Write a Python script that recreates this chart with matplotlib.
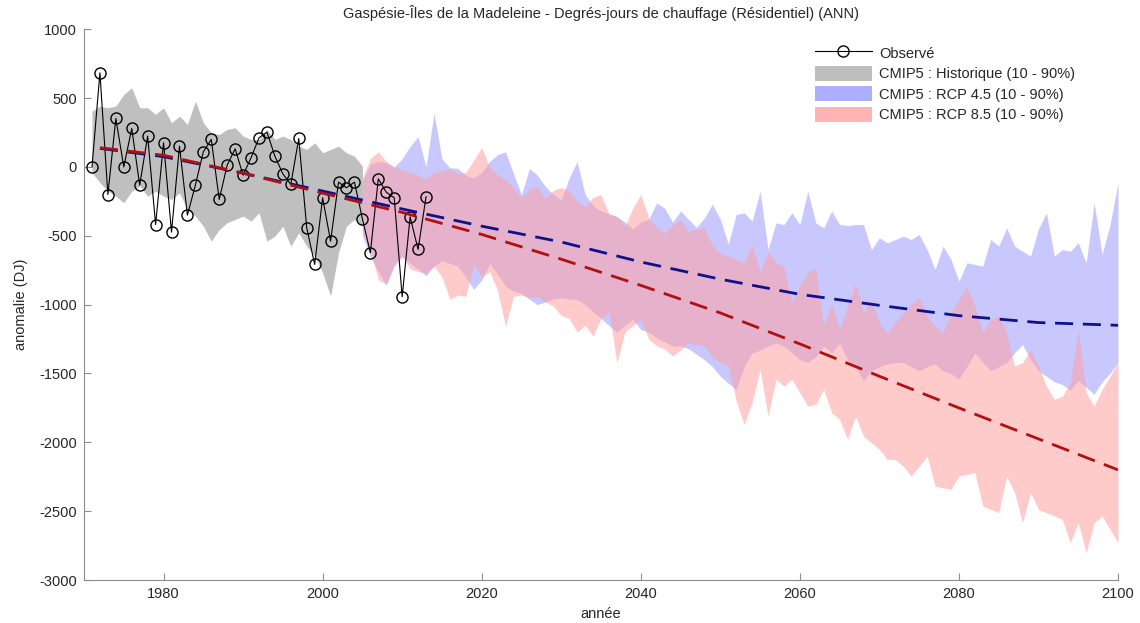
import numpy as np
import matplotlib
matplotlib.use("Agg")
import matplotlib.pyplot as plt
from matplotlib.lines import Line2D
from matplotlib.patches import Patch

plt.rcParams['font.family'] = ['Liberation Sans', 'DejaVu Sans']
plt.rcParams['axes.unicode_minus'] = False

# Observed anomalies (DJ), 1971-2013
obs_years = list(range(1971, 2014))
obs_vals = [-1, 684, -200, 352, 0, 280, -132, 224, -418, 176,
            -473, 151, -350, -132, 110, 200, -236, 13, 132, -60,
            67, 212, 253, 78, -50, -127, 207, -442, -708, -224,
            -539, -110, -151, -110, -376, -623, -86, -183, -224, -943,
            -362, -599, -216]

# CMIP5 historical 10-90% envelope, 1971-2005
hist_years = list(range(1971, 2006))
hist_hi = [405, 442, 430, 442, 527, 575, 430, 430, 381, 430,
           321, 369, 309, 478, 321, 248, 236, 272, 285, 224,
           200, 200, 272, 200, 224, 200, 151, 127, 176, 103,
           127, 151, 103, 78, 6]
hist_lo = [-42, -113, -176, -212, -260, -176, -139, -212, -176, -212,
           -236, -188, -309, -357, -430, -539, -454, -405, -381, -357,
           -393, -333, -539, -502, -430, -575, -478, -575, -648, -769,
           -938, -623, -430, -381, -430]

# CMIP5 scenario envelopes, 2005-2100
rcp_years = list(range(2005, 2101))
rcp45_hi = [-100, 20, 40, 30, 0, 60, 150, 220, 0, 390,
            60, -6, -10, -60, -80, -40, 40, 90, 110, -50,
            -200, -10, -60, -140, -200, -240, -80, 40, -200, -280,
            -320, -340, -360, -400, -450, -400, -380, -260, -300, -400,
            -320, -380, -440, -370, -270, -380, -560, -345, -333, -394,
            -176, -600, -406, -418, -333, -418, -176, -406, -442, -321,
            -418, -425, -418, -418, -600, -514, -551, -527, -502, -527,
            -490, -600, -745, -575, -672, -829, -696, -708, -720, -527,
            -575, -442, -575, -612, -648, -450, -333, -648, -600, -612,
            -551, -696, -260, -636, -418, -115]
rcp45_lo = [-500, -650, -760, -860, -720, -650, -700, -740, -790, -720,
            -680, -700, -720, -800, -890, -820, -700, -780, -865, -900,
            -920, -960, -1000, -980, -960, -950, -960, -962, -1000, -1050,
            -1100, -1150, -1200, -1150, -1107, -1180, -1200, -1240, -1270, -1301,
            -1300, -1320, -1360, -1400, -1450, -1520, -1570, -1616, -1450, -1350,
            -1330, -1300, -1280, -1300, -1350, -1400, -1420, -1380, -1300, -1350,
            -1280, -1400, -1450, -1550, -1480, -1450, -1430, -1420, -1420, -1450,
            -1480, -1450, -1430, -1480, -1500, -1540, -1450, -1350, -1420, -1480,
            -1450, -1420, -1350, -1290, -1400, -1480, -1520, -1560, -1580, -1620,
            -1550, -1600, -1650, -1560, -1500, -1420]
rcp85_hi = [-80, 60, 110, 40, 0, -20, -40, -60, -90, -40,
            -30, -10, -50, -40, 50, 140, 0, -60, -90, -150,
            -220, -160, -140, -230, -170, -150, -170, -250, -290, -220,
            -200, -340, -360, -430, -300, -200, -370, -440, -480, -420,
            -380, -470, -450, -440, -570, -630, -648, -672, -696, -563,
            -769, -612, -696, -720, -986, -865, -769, -732, -1156, -986,
            -1180, -1011, -841, -1059, -962, -1132, -1204, -1132, -1059, -998,
            -950, -1083, -1156, -1204, -1059, -962, -865, -1011, -1204, -1108,
            -1083, -1204, -1446, -1422, -1325, -1446, -1592, -1688, -1664, -1567,
            -1180, -1640, -1737, -1616, -1519, -1422]
rcp85_lo = [-480, -600, -820, -850, -700, -650, -740, -760, -770, -720,
            -800, -960, -930, -940, -700, -800, -760, -900, -1156, -940,
            -930, -950, -940, -980, -1010, -1080, -1100, -1200, -1150, -1228,
            -1100, -1050, -1422, -1200, -1150, -1107, -1250, -1300, -1320, -1373,
            -1330, -1277, -1290, -1301, -1380, -1420, -1446, -1700, -1870, -1712,
            -1470, -1809, -1543, -1592, -1543, -1640, -1737, -1724, -1616, -1785,
            -1834, -1979, -1809, -1955, -2003, -2051, -2124, -2124, -2173, -2245,
            -2173, -2100, -2318, -2330, -2342, -2245, -2233, -2221, -2463, -2487,
            -2511, -2245, -2366, -2584, -2366, -2487, -2511, -2535, -2560, -2729,
            -2584, -2802, -2584, -2535, -2632, -2729]

# Ensemble median trends
trend_years = [1972, 1980, 1990, 2000, 2010, 2020, 2030, 2040, 2050,
               2060, 2070, 2080, 2090, 2100]
trend45 = [135, 75, -45, -175, -305, -430, -545, -690, -815,
           -925, -1005, -1080, -1130, -1150]
trend85 = [140, 85, -45, -190, -330, -490, -670, -860, -1060,
           -1285, -1520, -1750, -1975, -2200]

fig = plt.figure(figsize=(11.4, 6.23), dpi=100)
ax = fig.add_axes([0.0737, 0.069, 0.907, 0.884])

ax.fill_between(hist_years, hist_lo, hist_hi, color='#bfbfbf', lw=0)
ax.fill_between(rcp_years, rcp45_lo, rcp45_hi, color='#c8c8ff', lw=0)
ax.fill_between(rcp_years, rcp85_lo, rcp85_hi, color='#ff9f9f', alpha=0.55, lw=0)

ax.plot(obs_years, obs_vals, color='black', lw=0.8, marker='o', ms=8,
        mfc='none', mec='black', mew=1.0)

ax.plot(trend_years, trend45, color='#10108c', lw=2, dashes=(6.5, 3.5))
ax.plot(trend_years, trend85, color='#b01010', lw=2, dashes=(6.5, 3.5))

ax.set_xlim(1970, 2100)
ax.set_ylim(-3000, 1000)
ax.set_xticks(range(1980, 2101, 20))
ax.set_yticks(range(-3000, 1001, 500))

for s in ['top', 'right']:
    ax.spines[s].set_visible(False)
for s in ['left', 'bottom']:
    ax.spines[s].set_color('#8c8c8c')
ax.tick_params(direction='in', length=5, color='#8c8c8c', labelsize=10.5,
               labelcolor='#262626', pad=5)

ax.set_title('Gaspésie-Îles de la Madeleine - Degrés-jours de chauffage (Résidentiel) (ANN)',
             fontsize=10.5, color='#262626', pad=8)
ax.set_xlabel('année', fontsize=10.5, color='#262626', labelpad=4)
ax.set_ylabel('anomalie (DJ)', fontsize=10.5, color='#262626', labelpad=8)

handles = [
    Line2D([], [], color='black', lw=0.8, marker='o', ms=8, mfc='none', mec='black'),
    Patch(facecolor='#bebebe', edgecolor='none'),
    Patch(facecolor='#aeaeff', edgecolor='none'),
    Patch(facecolor='#ffb4b4', edgecolor='none'),
]
labels = ['Observé', 'CMIP5 : Historique (10 - 90%)',
          'CMIP5 : RCP 4.5 (10 - 90%)', 'CMIP5 : RCP 8.5 (10 - 90%)']
ax.legend(handles, labels, loc='upper left', bbox_to_anchor=(0.694, 0.995),
          frameon=False, fontsize=10.5, handlelength=3.9, handleheight=1.2,
          labelspacing=0.35, handletextpad=0.5, labelcolor='#262626')

fig.savefig('out.png', dpi=100)
